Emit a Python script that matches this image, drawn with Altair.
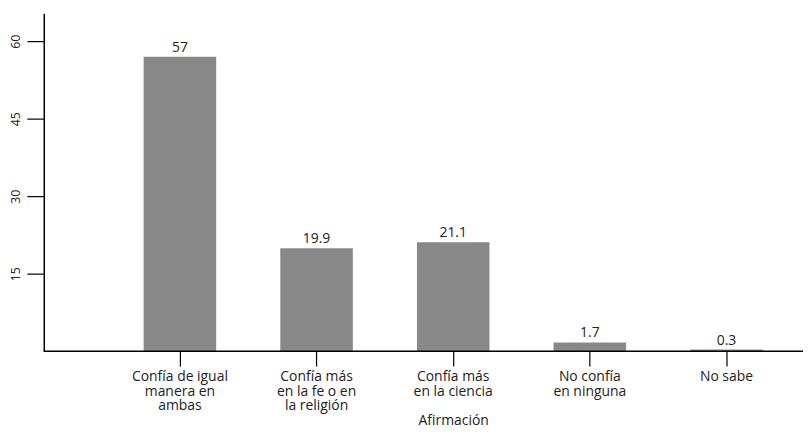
import altair as alt
import pandas as pd

categories = ["Confía de igual|manera en|ambas", "Confía más|en la fe o en|la religión",
              "Confía más|en la ciencia", "No confía|en ninguna", "No sabe"]
values = [57, 19.9, 21.1, 1.7, 0.3]
labels = ["57", "19.9", "21.1", "1.7", "0.3"]
y_ticks = [15, 30, 45, 60]

df = pd.DataFrame({"cat": categories, "val": values, "lab": labels})

W, H = 764, 340
FONT = "Open Sans"

xscale = alt.Scale(domain=categories, range=[68.25, 755.75], paddingInner=0.469, paddingOuter=0.2345)
yscale = alt.Scale(domain=[0, 65.4], nice=False, zero=True)

base = alt.Chart(df)

bars = base.mark_bar(color="#888888").encode(
    x=alt.X("cat:N", scale=xscale, sort=categories,
            axis=alt.Axis(title="Afirmación", domain=False, ticks=True, tickSize=15,
                          tickColor="black", tickWidth=1.2, labelAngle=0,
                          labelExpr="split(datum.label, '|')", labelFont=FONT, labelFontSize=14,
                          labelLineHeight=14.5, labelColor="#222222", labelPadding=4,
                          labelBaseline="top",
                          titleFont=FONT, titleFontSize=14, titleFontWeight="normal",
                          titleColor="#222222", titleY=74, titleBaseline="alphabetic")),
    y=alt.Y("val:Q", scale=yscale,
            axis=alt.Axis(title=None, values=y_ticks, domainColor="black", domainWidth=1.5,
                          tickColor="black", tickSize=17, tickWidth=1.2, labelAngle=270,
                          labelAlign="center", labelBaseline="bottom", labelPadding=4,
                          labelFont=FONT, labelFontSize=12.5, labelColor="#222222", grid=False)),
)

text = base.mark_text(baseline="alphabetic", dy=-5, font=FONT, fontSize=14, color="#222222").encode(
    x=alt.X("cat:N", scale=xscale, sort=categories),
    y=alt.Y("val:Q", scale=yscale),
    text="lab:N",
)

xline = alt.Chart(pd.DataFrame({"a": [0]})).mark_rule(color="black", strokeWidth=1.5).encode(
    x=alt.value(0), x2=alt.value(W), y=alt.value(H)
)

chart = alt.layer(bars, text, xline).properties(
    width=W, height=H,
    autosize=alt.AutoSizeParams(type="none"),
    padding={"left": 36, "top": 4, "right": 0, "bottom": 76},
).configure_view(stroke=None)

chart.save("out.html", embed_options={"renderer": "svg", "actions": False})
